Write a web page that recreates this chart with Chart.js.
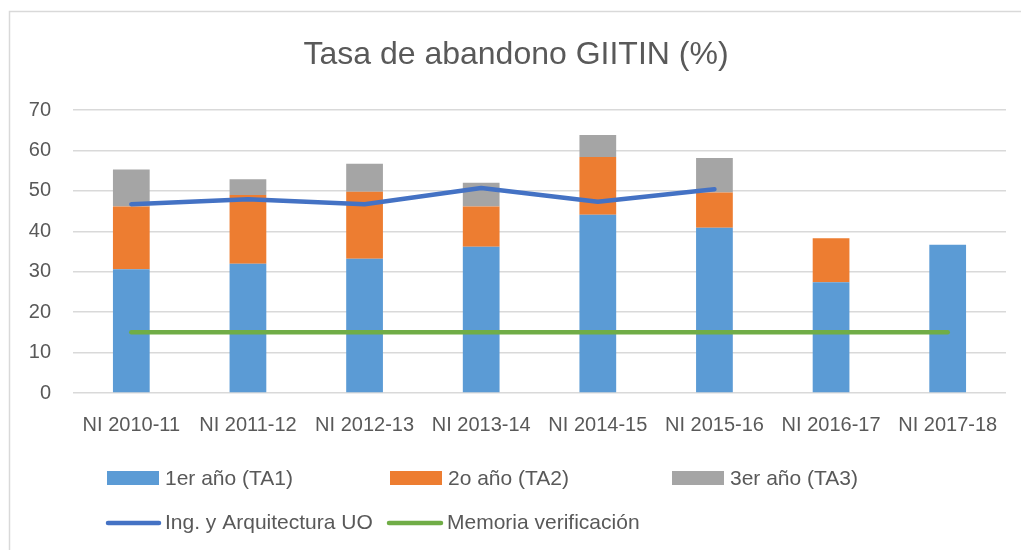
<!DOCTYPE html>
<html>
<head>
<meta charset="utf-8">
<script src="https://cdn.jsdelivr.net/npm/chart.js@4/dist/chart.umd.min.js"></script>
<style>
  html, body { margin: 0; padding: 0; background: #ffffff; }
  #wrap { width: 1021px; height: 550px; position: relative; }
</style>
</head>
<body>
<div id="wrap"><canvas id="c" width="1021" height="550"></canvas></div>
<script>
const chartTitle = 'Tasa de abandono GIITIN (%)';
const categories = ['NI 2010-11', 'NI 2011-12', 'NI 2012-13', 'NI 2013-14', 'NI 2014-15', 'NI 2015-16', 'NI 2016-17', 'NI 2017-18'];
const ta1 = [30.6, 32.0, 33.2, 36.2, 44.1, 40.9, 27.4, 36.7];
const ta2 = [15.5, 17.0, 16.6, 9.9, 14.3, 8.7, 10.9, null];
const ta3 = [9.2, 3.9, 6.9, 5.9, 5.4, 8.5, null, null];
const ingArq = [46.7, 47.9, 46.7, 50.7, 47.3, 50.4, null, null];
const memoria = [15, 15, 15, 15, 15, 15, 15, 15];
const yTicks = [0, 10, 20, 30, 40, 50, 60, 70];
const seriesNames = ['1er año (TA1)', '2o año (TA2)', '3er año (TA3)', 'Ing. y Arquitectura UO', 'Memoria verificación'];

const FONT = "'Liberation Sans', Arial, sans-serif";
const TEXT = '#595959';

const framePlugin = {
  id: 'frame',
  beforeDraw(chart) {
    const ctx = chart.ctx;
    ctx.save();
    ctx.fillStyle = '#ffffff';
    ctx.fillRect(0, 0, chart.width, chart.height);
    ctx.strokeStyle = '#D9D9D9';
    ctx.lineWidth = 1.5;
    ctx.strokeRect(9.5, 11.5, 1100, 1000);
    ctx.fillStyle = TEXT;
    ctx.font = '32px ' + FONT;
    ctx.textAlign = 'center';
    ctx.textBaseline = 'alphabetic';
    ctx.fillText(chartTitle, 516, 64);
    ctx.restore();
  },
  afterDraw(chart) {
    const ctx = chart.ctx;
    const ds = chart.data.datasets;
    ctx.save();
    ctx.font = '21px ' + FONT;
    ctx.fillStyle = TEXT;
    ctx.textAlign = 'left';
    ctx.textBaseline = 'middle';
    const row1 = [[107, 0], [390, 1], [672, 2]];
    row1.forEach(([x, i]) => {
      ctx.fillStyle = ds[i].backgroundColor;
      ctx.fillRect(x, 471, 52, 14);
      ctx.fillStyle = TEXT;
      ctx.fillText(ds[i].label, x + 58, 479);
    });
    const row2 = [[106, 161, 3], [387, 443, 4]];
    row2.forEach(([x0, x1, i]) => {
      ctx.strokeStyle = ds[i].borderColor;
      ctx.lineWidth = 4.5;
      ctx.lineCap = 'round';
      ctx.beginPath();
      ctx.moveTo(x0 + 2, 523);
      ctx.lineTo(x1 - 2, 523);
      ctx.stroke();
      ctx.fillStyle = TEXT;
      ctx.fillText(ds[i].label, x1 + 4, 523);
    });
    ctx.restore();
  }
};

new Chart(document.getElementById('c'), {
  type: 'bar',
  data: {
    labels: categories,
    datasets: [
      { type: 'bar', label: seriesNames[0], data: ta1, backgroundColor: '#5B9BD5', stack: 'bars', order: 2 },
      { type: 'bar', label: seriesNames[1], data: ta2, backgroundColor: '#ED7D31', stack: 'bars', order: 2 },
      { type: 'bar', label: seriesNames[2], data: ta3, backgroundColor: '#A5A5A5', stack: 'bars', order: 2 },
      { type: 'line', label: seriesNames[3], data: ingArq, borderColor: '#4472C4', backgroundColor: '#4472C4',
        borderWidth: 4.5, pointRadius: 0, borderCapStyle: 'round', borderJoinStyle: 'round', stack: 'l1', order: 0, spanGaps: false },
      { type: 'line', label: seriesNames[4], data: memoria, borderColor: '#70AD47', backgroundColor: '#70AD47',
        borderWidth: 4.5, pointRadius: 0, borderCapStyle: 'round', borderJoinStyle: 'round', stack: 'l2', order: 1 }
    ]
  },
  options: {
    responsive: false,
    animation: false,
    events: [],
    layout: { padding: { left: 0, right: 15, top: 110, bottom: 0 } },
    datasets: { bar: { categoryPercentage: 1.0, barPercentage: 0.315 } },
    plugins: {
      legend: { display: false },
      title: { display: false },
      tooltip: { enabled: false }
    },
    scales: {
      x: {
        stacked: true,
        grid: { display: false, drawTicks: false },
        border: { display: false },
        ticks: { color: TEXT, font: { family: FONT, size: 20 }, padding: 20, maxRotation: 0, autoSkip: false },
        afterFit(scale) { scale.height = 157; }
      },
      y: {
        stacked: true,
        min: 0, max: 70,
        afterBuildTicks(scale) { scale.ticks = yTicks.map(v => ({ value: v })); },
        grid: { color: '#D9D9D9', lineWidth: 1.5, drawTicks: false },
        border: { display: false },
        ticks: { color: TEXT, font: { family: FONT, size: 20 }, padding: 22 },
        afterFit(scale) { scale.width = 73; }
      }
    }
  },
  plugins: [framePlugin]
});
</script>
</body>
</html>
